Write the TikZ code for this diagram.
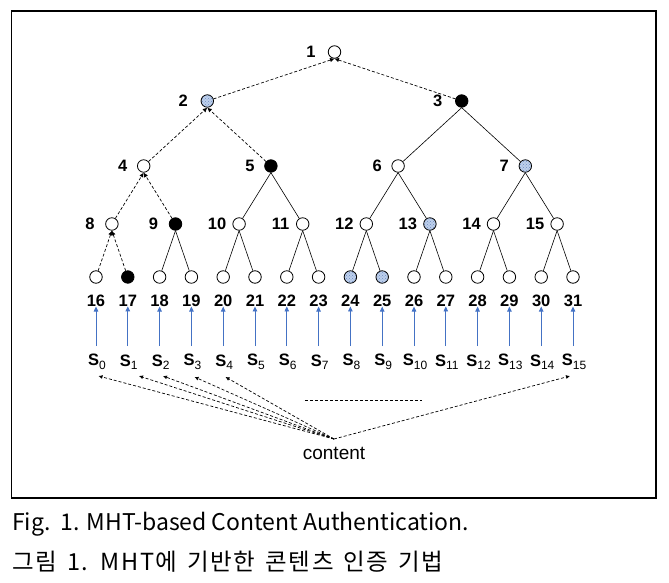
\documentclass[tikz,border=0pt]{standalone}
\usepackage{fontspec}
\setmainfont{Liberation Sans}
\newfontfamily\kr{Noto Sans CJK KR}
\newfontfamily\krw[LetterSpace=7]{Noto Sans CJK KR}
\usetikzlibrary{arrows.meta,patterns,calc}
\definecolor{arrowblue}{RGB}{68,114,196}
\definecolor{dotfill}{RGB}{190,208,236}
\definecolor{dotcol}{RGB}{110,140,195}
\tikzset{
  hn/.style={circle,draw,line width=0.8pt,minimum size=12.5pt,inner sep=0pt,fill=white},
  hblack/.style={fill=black},
  hdot/.style={preaction={fill=dotfill},pattern=crosshatch dots,pattern color=dotcol},
  k2/.style={hdot}, k3/.style={hblack}, k5/.style={hblack}, k7/.style={hdot},
  k9/.style={hblack}, k13/.style={hdot}, k17/.style={hblack}, k24/.style={hdot}, k25/.style={hdot},
  num/.style={font=\fontsize{16.5}{18}\selectfont\bfseries,inner sep=0pt},
  slab/.style={font=\fontsize{16.5}{18}\selectfont\bfseries,inner sep=0pt},
  tree/.style={line width=0.6pt},
  auth/.style={line width=0.7pt,dash pattern=on 3pt off 2pt,-{Latex[length=4.5pt,width=4.5pt]}},
  upar/.style={arrowblue,line width=0.9pt,-{Triangle[length=5pt,width=4.5pt]}},
}
\begin{document}
\begin{tikzpicture}[x=1pt,y=-1pt]
\useasboundingbox (0,0) rectangle (669,583);
\draw[line width=1.2pt] (11.5,11) rectangle (656,498);
% root
\node[hn] (n1) at (334.5,52) {};
\node[num] at (311,52) {1};
% level 2
\foreach \p in {0,1}{
  \pgfmathtruncatemacro\n{2+\p}
  \pgfmathsetmacro\x{207.3+254.4*\p}
  \node[hn,k\n/.try] (n\n) at (\x,101) {};
  \node[num] at (\x-24,101) {\n};
}
% level 3
\foreach \p in {0,...,3}{
  \pgfmathtruncatemacro\n{4+\p}
  \pgfmathsetmacro\x{143.7+127.2*\p}
  \node[hn,k\n/.try] (n\n) at (\x,166) {};
  \node[num] at (\x-21,166) {\n};
}
% level 4
\foreach \p in {0,...,7}{
  \pgfmathtruncatemacro\n{8+\p}
  \pgfmathsetmacro\x{111.9+63.6*\p}
  \node[hn,k\n/.try] (n\n) at (\x,224) {};
  \node[num] at (\x-22,224) {\n};
}
% leaves
\foreach \p in {0,...,15}{
  \pgfmathtruncatemacro\n{16+\p}
  \pgfmathsetmacro\x{96+31.8*\p}
  \node[hn,k\n/.try] (n\n) at (\x,277) {};
  \node[num] (l\n) at (\x,300.5) {\n};
  \node[slab] (s\p) at (\x+1,362) {S\raisebox{-3.5pt}{\fontsize{12}{12}\selectfont\mdseries\p}};
  \draw[upar] (\x,346) -- (l\n.south);
}
% solid edges
\foreach \a/\b in {3/6,3/7,5/10,5/11,6/12,6/13,7/14,7/15,9/18,9/19,10/20,10/21,11/22,11/23,12/24,12/25,13/26,13/27,14/28,14/29,15/30,15/31}
  \draw[tree] (n\a.south) -- (n\b);
% authentication path
\foreach \c/\pa in {16/8,17/8,8/4,9/4,4/2,5/2,2/1,3/1}
  \draw[auth] (n\c) -- (n\pa.south);
% content
\node[font=\fontsize{19}{22}\selectfont,inner sep=0pt] (content) at (334,453) {content};
\coordinate (hub) at (334,439);
\coordinate (t0) at (98.5,376);
\coordinate (t1) at (139,376);
\coordinate (t2) at (163,376);
\coordinate (t3) at (194.5,377);
\coordinate (t4) at (225.5,377);
\coordinate (t15) at (570,376);
\foreach \t in {t0,t1,t2,t3,t4,t15}
  \draw[auth,-{Latex[length=4pt,width=4pt]}] (hub) -- (\t);
\coordinate (sepA) at (305,400);
\coordinate (sepB) at (422,400);
\draw[line width=0.7pt,dash pattern=on 3pt off 2pt] (sepA) -- (sepB);
% caption
\node[anchor=west,inner sep=0pt,font=\kr\fontsize{23}{26}\selectfont] (cap1) at (12,524) {Fig.\ \ 1. MHT-based Content Authentication.};
\node[anchor=west,inner sep=0pt,font=\krw\fontsize{23.5}{26}\selectfont] (cap2) at (12,562) {\spaceskip=10pt 그림 1. MHT에 기반한 콘텐츠 인증 기법};
\end{tikzpicture}
\end{document}
